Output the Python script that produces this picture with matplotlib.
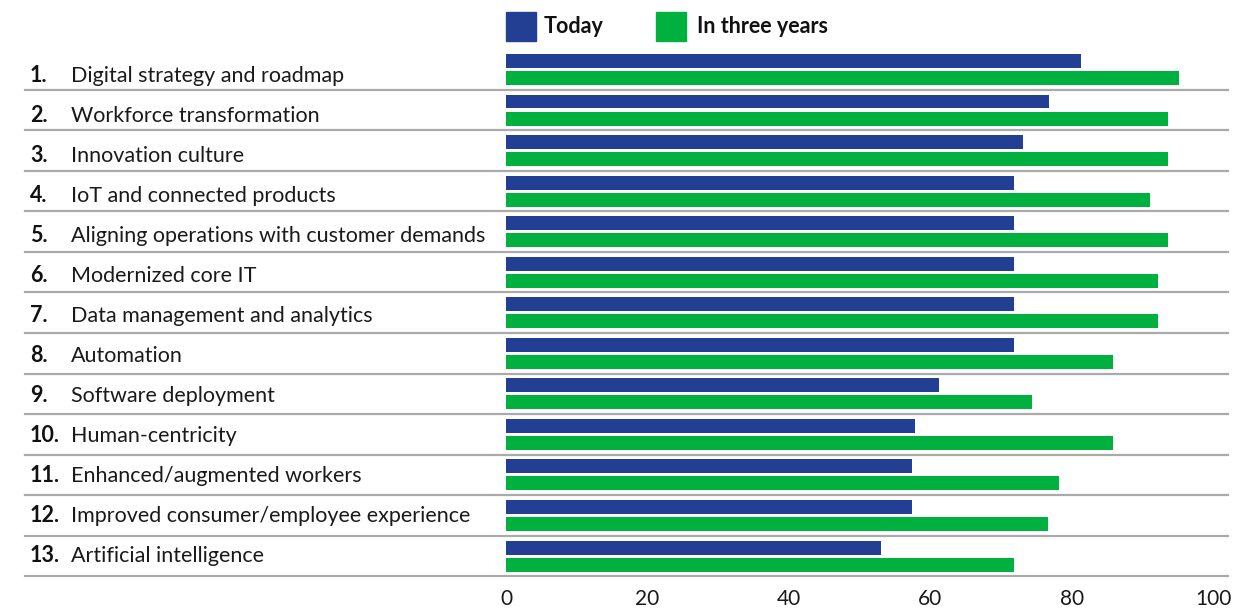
import matplotlib.pyplot as plt
import matplotlib.transforms as mtransforms
import numpy as np

plt.rcParams['font.family'] = ['Lato', 'DejaVu Sans']

numbers = ["1.", "2.", "3.", "4.", "5.", "6.", "7.", "8.", "9.", "10.", "11.", "12.", "13."]
labels = ["Digital strategy and roadmap", "Workforce transformation", "Innovation culture",
          "IoT and connected products", "Aligning operations with customer demands",
          "Modernized core IT", "Data management and analytics", "Automation",
          "Software deployment", "Human-centricity", "Enhanced/augmented workers",
          "Improved consumer/employee experience", "Artificial intelligence"]
today = [81.4, 76.8, 73.1, 71.8, 71.8, 71.8, 71.8, 71.8, 61.3, 57.8, 57.4, 57.4, 53.1]
three_years = [95.2, 93.6, 93.6, 91.1, 93.6, 92.2, 92.2, 85.8, 74.4, 85.8, 78.2, 76.6, 71.8]
xticks = [0, 20, 40, 60, 80, 100]

blue = '#233f94'
green = '#00b140'

W, H = 1243, 610
fig = plt.figure(figsize=(W / 100, H / 100), dpi=100)
ax = fig.add_axes([506 / W, 1 - 576.3 / H, 707 / W, (576.3 - 49.2) / H])

y = np.arange(len(labels))
off = 0.21
h = 0.345
ax.barh(y - off, today, height=h, color=blue)
ax.barh(y + off, three_years, height=h, color=green)

ax.set_xlim(0, 100)
ax.set_ylim(len(labels) - 0.5, -0.5)
for s in ax.spines.values():
    s.set_visible(False)
ax.set_yticks([])
ax.set_xticks(xticks)
ax.tick_params(axis='x', length=0, labelsize=15, pad=9, labelcolor='#1a1a1a')

trans = mtransforms.blended_transform_factory(fig.transFigure, ax.transData)
for i in range(len(labels)):
    ax.plot([25 / W, 1228 / W], [i + 0.5, i + 0.5], transform=trans, color='#aaaaaa',
            lw=1.6, clip_on=False)
    # text rows sit on a 40px pitch, baseline of row 1 at 82px
    ty = 1 - (82 + 40 * i) / H
    fig.text(30 / W, ty, numbers[i], fontsize=15.5, fontweight='bold',
             va='baseline', ha='left', color='#111111')
    fig.text(71 / W, ty, labels[i], fontsize=15.5,
             va='baseline', ha='left', color='#1a1a1a')

# legend
fig.patches.append(plt.Rectangle((506 / W, 1 - 41 / H), 30 / W, 29 / H, color=blue,
                                 transform=fig.transFigure))
fig.patches.append(plt.Rectangle((656 / W, 1 - 41 / H), 30 / W, 29 / H, color=green,
                                 transform=fig.transFigure))
fig.text(544 / W, 1 - 26.5 / H, "Today", fontsize=15.5, fontweight='bold', va='center', color='#111111')
fig.text(697 / W, 1 - 26.5 / H, "In three years", fontsize=15.5, fontweight='bold', va='center', color='#111111')

fig.savefig('out.png', dpi=100)
